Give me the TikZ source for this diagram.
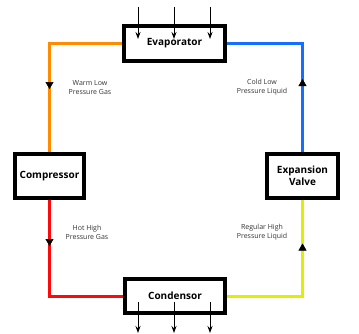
\documentclass[tikz,border=0pt]{standalone}
\usepackage{fontspec}
\setmainfont{Open Sans}
\usetikzlibrary{arrows.meta,decorations.markings}
\definecolor{corange}{RGB}{255,140,0}
\definecolor{cblue}{RGB}{20,110,255}
\definecolor{cred}{RGB}{250,10,10}
\definecolor{cyellow}{RGB}{225,238,0}
\definecolor{ctext}{RGB}{50,50,50}
\tikzset{
  unit/.style={draw=black, line width=4pt, fill=white, inner sep=0pt, align=center,
    font=\fontsize{10}{12}\selectfont\bfseries},
  pipe/.style={line width=3pt},
  flowmark/.style={postaction={decorate, decoration={markings,
    mark=at position #1 with {\arrow[black, line width=0.5pt]{Triangle[width=8pt,length=7pt]}}}}},
  heat/.style={line width=0.9pt, -{Stealth[width=5pt,length=7pt]}},
  lbl/.style={font=\fontsize{7}{9}\selectfont, text=ctext, align=center}
}
\begin{document}
\begin{tikzpicture}[x=1pt,y=-1pt]
\useasboundingbox (0,0) rectangle (359,333);
% units
\node[unit, minimum width=101pt, minimum height=35pt] (evap) at (174.5,43.5) {Evaporator};
\node[unit, minimum width=69pt, minimum height=44pt] (comp) at (49.5,176) {Compressor};
\node[unit, minimum width=71pt, minimum height=44pt] (valve) at (302.5,176) {Expansion\\Valve};
\node[unit, minimum width=100pt, minimum height=34pt] (cond) at (175,296) {Condensor};
% pipes
\draw[pipe, corange, flowmark=118pt] (evap.west) -| (comp.north);
\draw[pipe, cred, flowmark=46pt] (comp.south) |- (cond.west);
\draw[pipe, cyellow, flowmark=128pt] (cond.east) -| (valve.south);
\draw[pipe, cblue, flowmark=73pt] (valve.north) |- (evap.east);
% heat arrows
\foreach \i/\x in {1/138,2/174,3/210}{
  \coordinate (ti\i) at (\x,7);
  \coordinate (to\i) at (\x,39);
  \coordinate (bi\i) at (\x,302);
  \coordinate (bo\i) at (\x,333);
  \draw[heat] (ti\i) -- (to\i);
  \draw[heat] (bi\i) -- (bo\i);
}
% labels
\node[lbl] (l1) at (90,87.5) {Warm Low\\Pressure Gas};
\node[lbl] (l2) at (262,87.5) {Cold Low\\Pressure Liquid};
\node[lbl] (l3) at (87,232.5) {Hot High\\Pressure Gas};
\node[lbl] (l4) at (262,232.5) {Regular High\\Pressure Liquid};
\end{tikzpicture}
\end{document}
